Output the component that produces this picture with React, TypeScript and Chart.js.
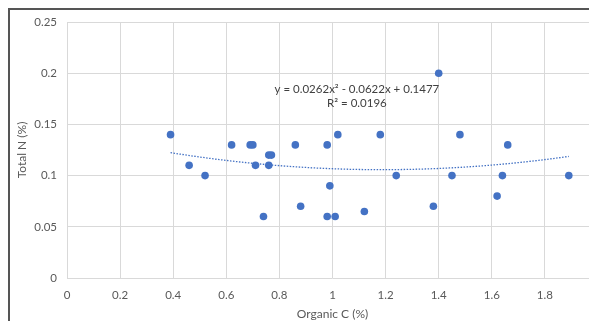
import React, { useEffect, useRef } from "react";
import { Chart, registerables } from "chart.js";

Chart.register(...registerables);

const organicC: number[] = [
  0.39, 0.46, 0.52, 0.62, 0.69, 0.70, 0.71, 0.76, 0.77, 0.76, 0.74, 0.86, 0.88,
  0.98, 0.99, 0.98, 1.01, 1.02, 1.12, 1.18, 1.24, 1.38, 1.40, 1.45, 1.48, 1.62,
  1.64, 1.66, 1.89,
];
const totalN: number[] = [
  0.14, 0.11, 0.10, 0.13, 0.13, 0.13, 0.11, 0.12, 0.12, 0.11, 0.06, 0.13, 0.07,
  0.13, 0.09, 0.06, 0.06, 0.14, 0.065, 0.14, 0.10, 0.07, 0.20, 0.10, 0.14, 0.08,
  0.10, 0.13, 0.10,
];
const xTicks: number[] = [0, 0.2, 0.4, 0.6, 0.8, 1, 1.2, 1.4, 1.6, 1.8, 2];
const yTicks: number[] = [0, 0.05, 0.1, 0.15, 0.2, 0.25];
// polynomial trendline as drawn in the picture
const trendA = 0.0262;
const trendB = -0.0622;
const trendC = 0.1427;
const equationText = "y = 0.0262x\u00B2 - 0.0622x + 0.1477";
const r2Text = "R\u00B2 = 0.0196";

export default function App() {
  const ref = useRef<HTMLCanvasElement | null>(null);
  useEffect(() => {
    if (!ref.current) return;
    const pts = organicC.map((x, i) => ({ x, y: totalN[i] }));
    const xmin = Math.min(...organicC);
    const xmax = Math.max(...organicC);
    const trend: { x: number; y: number }[] = [];
    const steps = 40;
    for (let i = 0; i <= steps; i++) {
      const x = xmin + ((xmax - xmin) * i) / steps;
      trend.push({ x, y: trendA * x * x + trendB * x + trendC });
    }
    const family = "Lato, 'Liberation Sans', sans-serif";
    const font = { family, size: 11.5 };
    const titleFont = { family, size: 12 };
    const labelPlugin = {
      id: "eqLabel",
      afterDatasetsDraw(chart: any) {
        const { ctx, scales } = chart;
        const cx = scales.x.getPixelForValue(1.092);
        const y1 = scales.y.getPixelForValue(0.1846);
        const y2 = scales.y.getPixelForValue(0.171);
        ctx.save();
        ctx.fillStyle = "#404040";
        ctx.font = "11.5px " + family;
        ctx.textAlign = "center";
        ctx.textBaseline = "middle";
        ctx.fillText(equationText, cx, y1);
        ctx.fillText(r2Text, cx, y2);
        ctx.restore();
      },
    };
    const chart = new Chart(ref.current, {
      type: "scatter",
      data: {
        datasets: [
          {
            label: "Total N",
            data: pts,
            backgroundColor: "#4472C4",
            borderColor: "#4472C4",
            pointRadius: 3.8,
            pointHoverRadius: 3.8,
            borderWidth: 0,
          },
          {
            label: "Trend",
            data: trend,
            showLine: true,
            borderColor: "#4472C4",
            borderWidth: 1.3,
            borderDash: [1.5, 1.5],
            pointRadius: 0,
            fill: false,
          } as any,
        ],
      },
      options: {
        animation: false,
        responsive: false,
        maintainAspectRatio: false,
        layout: { padding: { top: 12, right: 12, left: 0, bottom: 0 } },
        plugins: { legend: { display: false }, tooltip: { enabled: false } },
        scales: {
          x: {
            type: "linear",
            min: 0,
            max: 2,
            afterBuildTicks(scale: any) {
              scale.ticks = xTicks.map((v) => ({ value: v }));
            },
            afterFit(scale: any) {
              scale.height = 52;
              scale.paddingLeft = 0;
              scale.paddingRight = 0;
            },
            ticks: {
              color: "#595959",
              font,
              padding: 10,
              maxRotation: 0,
              callback: (v: any) => String(v),
            },
            grid: { color: "#d9d9d9", drawTicks: false },
            border: { display: false },
            title: {
              display: true,
              text: "Organic C (%)",
              color: "#595959",
              font: titleFont,
              padding: { top: 0, bottom: 9 },
            },
          },
          y: {
            type: "linear",
            min: 0,
            max: 0.25,
            afterBuildTicks(scale: any) {
              scale.ticks = yTicks.map((v) => ({ value: v }));
            },
            afterFit(scale: any) {
              scale.width = 57;
              scale.paddingTop = 0;
              scale.paddingBottom = 0;
            },
            ticks: {
              color: "#595959",
              font,
              padding: 10,
              callback: (v: any) => String(v),
            },
            grid: { color: "#d9d9d9", drawTicks: false },
            border: { display: false },
            title: {
              display: true,
              text: "Total N (%)",
              color: "#595959",
              font: titleFont,
              padding: { top: 5, bottom: 0 },
            },
          },
        },
      },
      plugins: [labelPlugin],
    });
    return () => chart.destroy();
  }, []);

  return (
    <div style={{ width: 589, height: 313, overflow: "hidden" }}>
      <div
        style={{
          borderTop: "2px solid #555",
          borderLeft: "2px solid #555",
          width: 620,
          height: 330,
          background: "#fff",
        }}
      >
        <canvas ref={ref} width={600} height={320} style={{ display: "block" }} />
      </div>
    </div>
  );
}
